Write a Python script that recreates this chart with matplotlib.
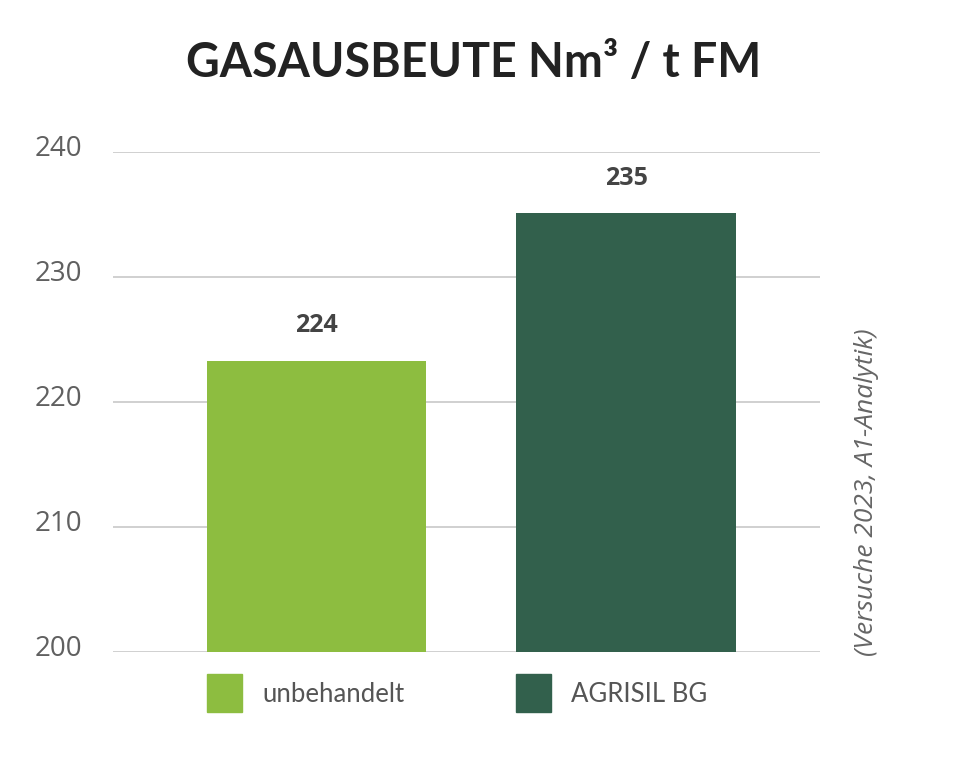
import matplotlib
matplotlib.use("Agg")
import matplotlib.pyplot as plt
from matplotlib.patches import Rectangle
from matplotlib.transforms import ScaledTranslation

# data
categories = ["unbehandelt", "AGRISIL BG"]
values = [223.3, 235.1]
value_labels = ["224", "235"]
colors = ["#8dbd40", "#32604c"]
y_ticks = [200, 210, 220, 230, 240]

plt.rcParams["font.family"] = ["Open Sans", "DejaVu Sans"]

fig = plt.figure(figsize=(9.7, 7.63), dpi=100)
ax = fig.add_axes([0.1165, 0.1455, 0.7289, 0.6553])

x = list(range(len(categories)))
ax.bar(x, [v - 200 for v in values], bottom=200, width=0.708, color=colors, zorder=3)

for xi, v, lab in zip(x, values, value_labels):
    ax.text(xi, v + 1.8, lab, ha="center", va="bottom", fontsize=18,
            fontweight="bold", color="#444444")

ax.set_xlim(-0.6575, 1.627)
ax.set_ylim(200, 240)
ax.set_yticks(y_ticks)
ax.set_yticklabels([str(t) for t in y_ticks], fontsize=20, color="#606060")
ax.tick_params(axis="y", length=0, pad=22)
# labels sit a little above their grid lines
shift = ScaledTranslation(0, 5 / 72, fig.dpi_scale_trans)
for lbl in ax.get_yticklabels():
    lbl.set_transform(lbl.get_transform() + shift)
ax.set_xticks([])
ax.grid(axis="y", color="#c8c8c8", linewidth=1.2, zorder=0)
for s in ax.spines.values():
    s.set_visible(False)

fig.text(0.488, 0.918, "GASAUSBEUTE Nm³ / t FM", ha="center", va="center",
         fontsize=33.5, fontweight="bold", color="#222222",
         family=["Lato", "DejaVu Sans"])

fig.text(0.893, 0.355, "(Versuche 2023, A1-Analytik)", rotation=90,
         ha="center", va="center", fontsize=19, style="italic", color="#666666")

# legend boxes below the axis
leg_x = [207 / 970, 516 / 970]
for lx, c, name in zip(leg_x, colors, categories):
    fig.patches.append(Rectangle((lx, 1 - 712 / 763), 35 / 970, 38 / 763,
                                 transform=fig.transFigure, color=c))
    fig.text(lx + 55 / 970, 1 - 694 / 763, name, ha="left", va="center",
             fontsize=18.5, color="#555555", family=["Lato", "DejaVu Sans"])

fig.savefig("out.png", dpi=100, facecolor="white")
